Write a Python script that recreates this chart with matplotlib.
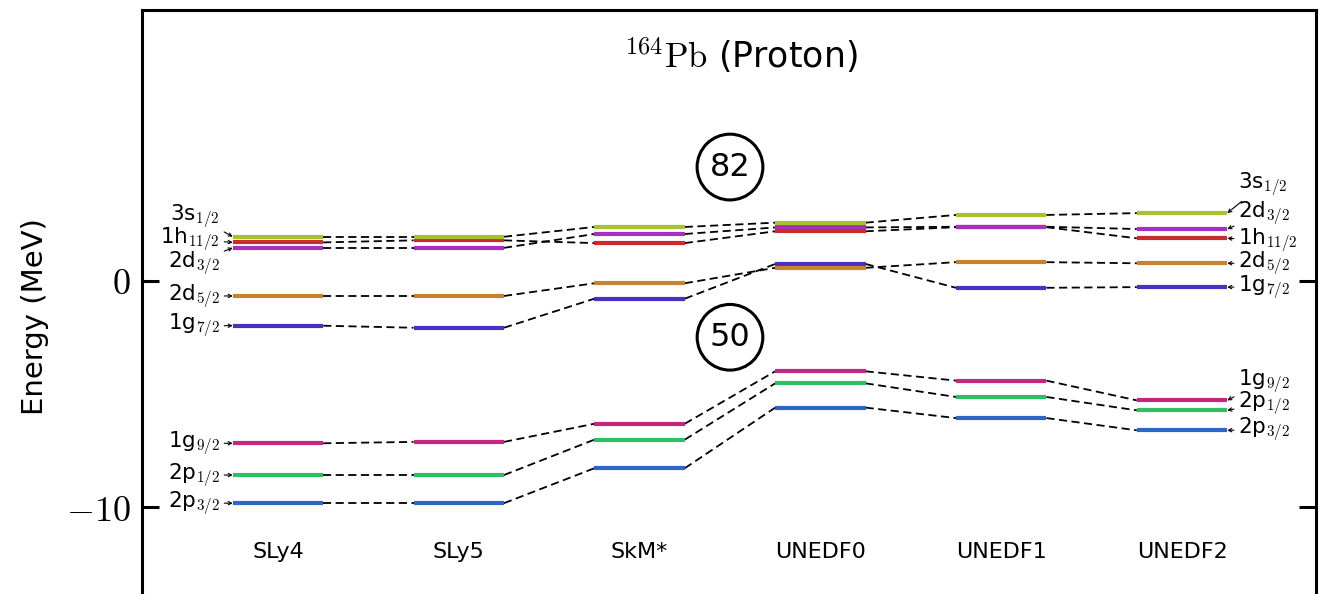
import matplotlib
matplotlib.use('Agg')
import matplotlib.pyplot as plt

plt.rcParams['font.family'] = ['DejaVu Sans']
plt.rcParams['mathtext.fontset'] = 'cm'

# 数据
models = ['SLy4', 'SLy5', 'SkM*', 'UNEDF0', 'UNEDF1', 'UNEDF2']
states = ['2p3/2', '2p1/2', '1g9/2', '1g7/2', '2d5/2', '1h11/2', '2d3/2', '3s1/2']
names = {
    '3s1/2': r'3s$_{1/2}$', '1h11/2': r'1h$_{11/2}$', '2d3/2': r'2d$_{3/2}$',
    '2d5/2': r'2d$_{5/2}$', '1g7/2': r'1g$_{7/2}$', '1g9/2': r'1g$_{9/2}$',
    '2p1/2': r'2p$_{1/2}$', '2p3/2': r'2p$_{3/2}$',
}
e_3s12 = [1.93, 1.93, 2.36, 2.55, 2.89, 2.97]
e_1h112 = [1.68, 1.77, 1.65, 2.17, 2.35, 1.86]
e_2d32 = [1.44, 1.44, 2.05, 2.34, 2.37, 2.27]
e_2d52 = [-0.68, -0.68, -0.12, 0.56, 0.81, 0.76]
e_1g72 = [-1.99, -2.08, -0.80, 0.73, -0.32, -0.29]
e_1g92 = [-7.17, -7.11, -6.31, -4.00, -4.41, -5.28]
e_2p12 = [-8.57, -8.57, -7.01, -4.53, -5.13, -5.72]
e_2p32 = [-9.81, -9.81, -8.27, -5.60, -6.06, -6.60]
energies = {
    '3s1/2': e_3s12, '1h11/2': e_1h112, '2d3/2': e_2d32, '2d5/2': e_2d52,
    '1g7/2': e_1g72, '1g9/2': e_1g92, '2p1/2': e_2p12, '2p3/2': e_2p32,
}
magic = [82, 50]

# 样式
colors = {
    '3s1/2': '#a6c22e', '1h11/2': '#cc2b2b', '2d3/2': '#a62fc4',
    '2d5/2': '#c8842c', '1g7/2': '#4b2ec4', '1g9/2': '#c2287e',
    '2p1/2': '#2cc062', '2p3/2': '#2b68c6',
}
# 标签文字位置 (左侧, 右侧)
left_text_y = {'3s1/2': 2.85, '1h11/2': 1.81, '2d3/2': 0.78}
right_text_y = {'3s1/2': 4.25, '2d3/2': 2.96, '1h11/2': 1.78,
                '1g9/2': -4.42, '2p1/2': -5.41, '2p3/2': -6.56}
magic_y = [5.0, -2.5]
hw = 0.25

fig = plt.figure(figsize=(13.19, 5.94), dpi=100)
ax = fig.add_axes([142 / 1319, -0.05, (1316 - 142) / 1319, 1 - 10 / 594 + 0.05])

for s in states:
    e = energies[s]
    for i, v in enumerate(e):
        ax.plot([i - hw, i + hw], [v, v], color=colors[s], lw=3, solid_capstyle='butt', zorder=3)
        if i < len(e) - 1:
            ax.plot([i + hw, i + 1 - hw], [v, e[i + 1]], color='black', lw=1.3,
                    ls=(0, (4.5, 2.5)), zorder=2)

arrow = dict(arrowstyle='->', lw=0.8, color='black', shrinkA=1, shrinkB=0,
             mutation_scale=6)
n = len(models) - 1
for s in states:
    e = energies[s]
    ax.annotate(names[s], xy=(-hw, e[0]), xytext=(-0.32, left_text_y.get(s, e[0])),
                ha='right', va='center', fontsize=15.5, arrowprops=arrow)
    ax.annotate(names[s], xy=(n + hw, e[n]), xytext=(n + 0.31, right_text_y.get(s, e[n])),
                ha='left', va='center', fontsize=15.5, arrowprops=arrow)

for i, m in enumerate(models):
    ax.text(i, -11.95, m, ha='center', va='center', fontsize=16)

for m, y in zip(magic, magic_y):
    ax.text(2.5, y, str(m), ha='center', va='center', fontsize=23,
            bbox=dict(boxstyle='circle,pad=0.39', fc='none', ec='black', lw=2.2))

ax.text(2.56, 9.93, r'$^{164}\mathrm{Pb}$ (Proton)', ha='center', va='center', fontsize=25)

ax.set_xlim(-0.752, 5.741)
ax.set_ylim(-15.12, 11.92)
ax.set_xticks([])
ax.set_yticks([0, -10])
ax.set_yticklabels([r'$0$', r'$-10$'], fontsize=26)
ax.tick_params(axis='y', direction='in', length=12, width=2.2, left=True, right=True, pad=8)
for sp in ax.spines.values():
    sp.set_linewidth(2.2)
ax.set_ylabel('Energy (MeV)', fontsize=21, labelpad=12)

fig.savefig('out.png', dpi=100)
